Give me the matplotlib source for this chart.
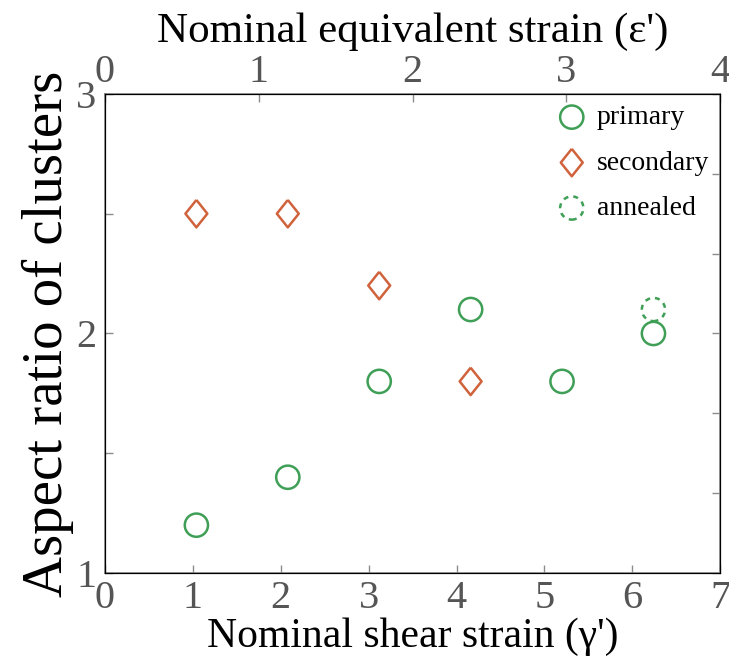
import numpy as np
import matplotlib
matplotlib.use("Agg")
import matplotlib.pyplot as plt

plt.rcParams['font.family'] = ['Liberation Serif', 'DejaVu Serif']

# data
primary_x = [1.04, 2.08, 3.12, 4.16, 5.2, 6.24]
primary_y = [1.2, 1.4, 1.8, 2.1, 1.8, 2.0]
secondary_x = [1.04, 2.08, 3.12, 4.16]
secondary_y = [2.5, 2.5, 2.2, 1.8]
annealed_x = [6.24]
annealed_y = [2.1]

green = '#3f9f57'
orange = '#d0623c'
spine_col = '#8c8c8c'
tick_col = '#555555'

# wider diamond than matplotlib's 'd'
diamond = [(0, 1), (0.8, 0), (0, -1), (-0.8, 0), (0, 1)]

fig = plt.figure(figsize=(7.29, 6.61), dpi=100)
ax = fig.add_axes([0.144, 0.133, 0.844, 0.725])

ax.scatter(primary_x, primary_y, s=280, facecolors='none', edgecolors=green, linewidths=1.8, label='primary')
ax.scatter(secondary_x, secondary_y, s=390, marker=diamond, facecolors='none', edgecolors=orange, linewidths=1.8, label='secondary')
ax.scatter(annealed_x, annealed_y, s=280, facecolors='none', edgecolors=green, linewidths=1.8, linestyles=(0, (2, 2)), label='annealed')

ax.set_xlim(0, 7)
ax.set_ylim(1, 3)
ax.set_xticks(range(0, 8))
ax.set_yticks([1, 1.5, 2, 2.5, 3])
ax.set_yticklabels(['1', '', '2', '', '3'])
ax.tick_params(direction='in', length=6, width=1, color=spine_col, labelcolor=tick_col, labelsize=29)
ax.tick_params(axis='x', pad=5)
ax.tick_params(axis='y', pad=6)
for s in ax.spines.values():
    s.set_color(spine_col)
    s.set_linewidth(1.2)

ax.set_xlabel("Nominal shear strain (\u03b3')", fontsize=30, labelpad=0)
ax.set_ylabel("Aspect ratio of clusters", fontsize=41, labelpad=2)

# top axis: nominal equivalent strain
top = ax.twiny()
top.set_xlim(0, 4)
top.set_xticks(range(0, 5))
top.tick_params(direction='in', length=6, width=1, color=spine_col, labelcolor=tick_col, labelsize=29, pad=2)
top.set_xlabel("Nominal equivalent strain (\u03b5')", fontsize=31, labelpad=9)

# right axis ticks only
right = ax.twinx()
right.set_ylim(0, 6)
right.set_yticks(range(0, 7))
right.set_yticklabels([])
right.tick_params(direction='in', length=6, width=1, color=spine_col)

leg = ax.legend(loc='upper right', frameon=False, fontsize=20, handletextpad=-0.1,
                labelspacing=0.72, borderaxespad=0.0, markerscale=1.0)

fig.savefig('out.png', dpi=100)
